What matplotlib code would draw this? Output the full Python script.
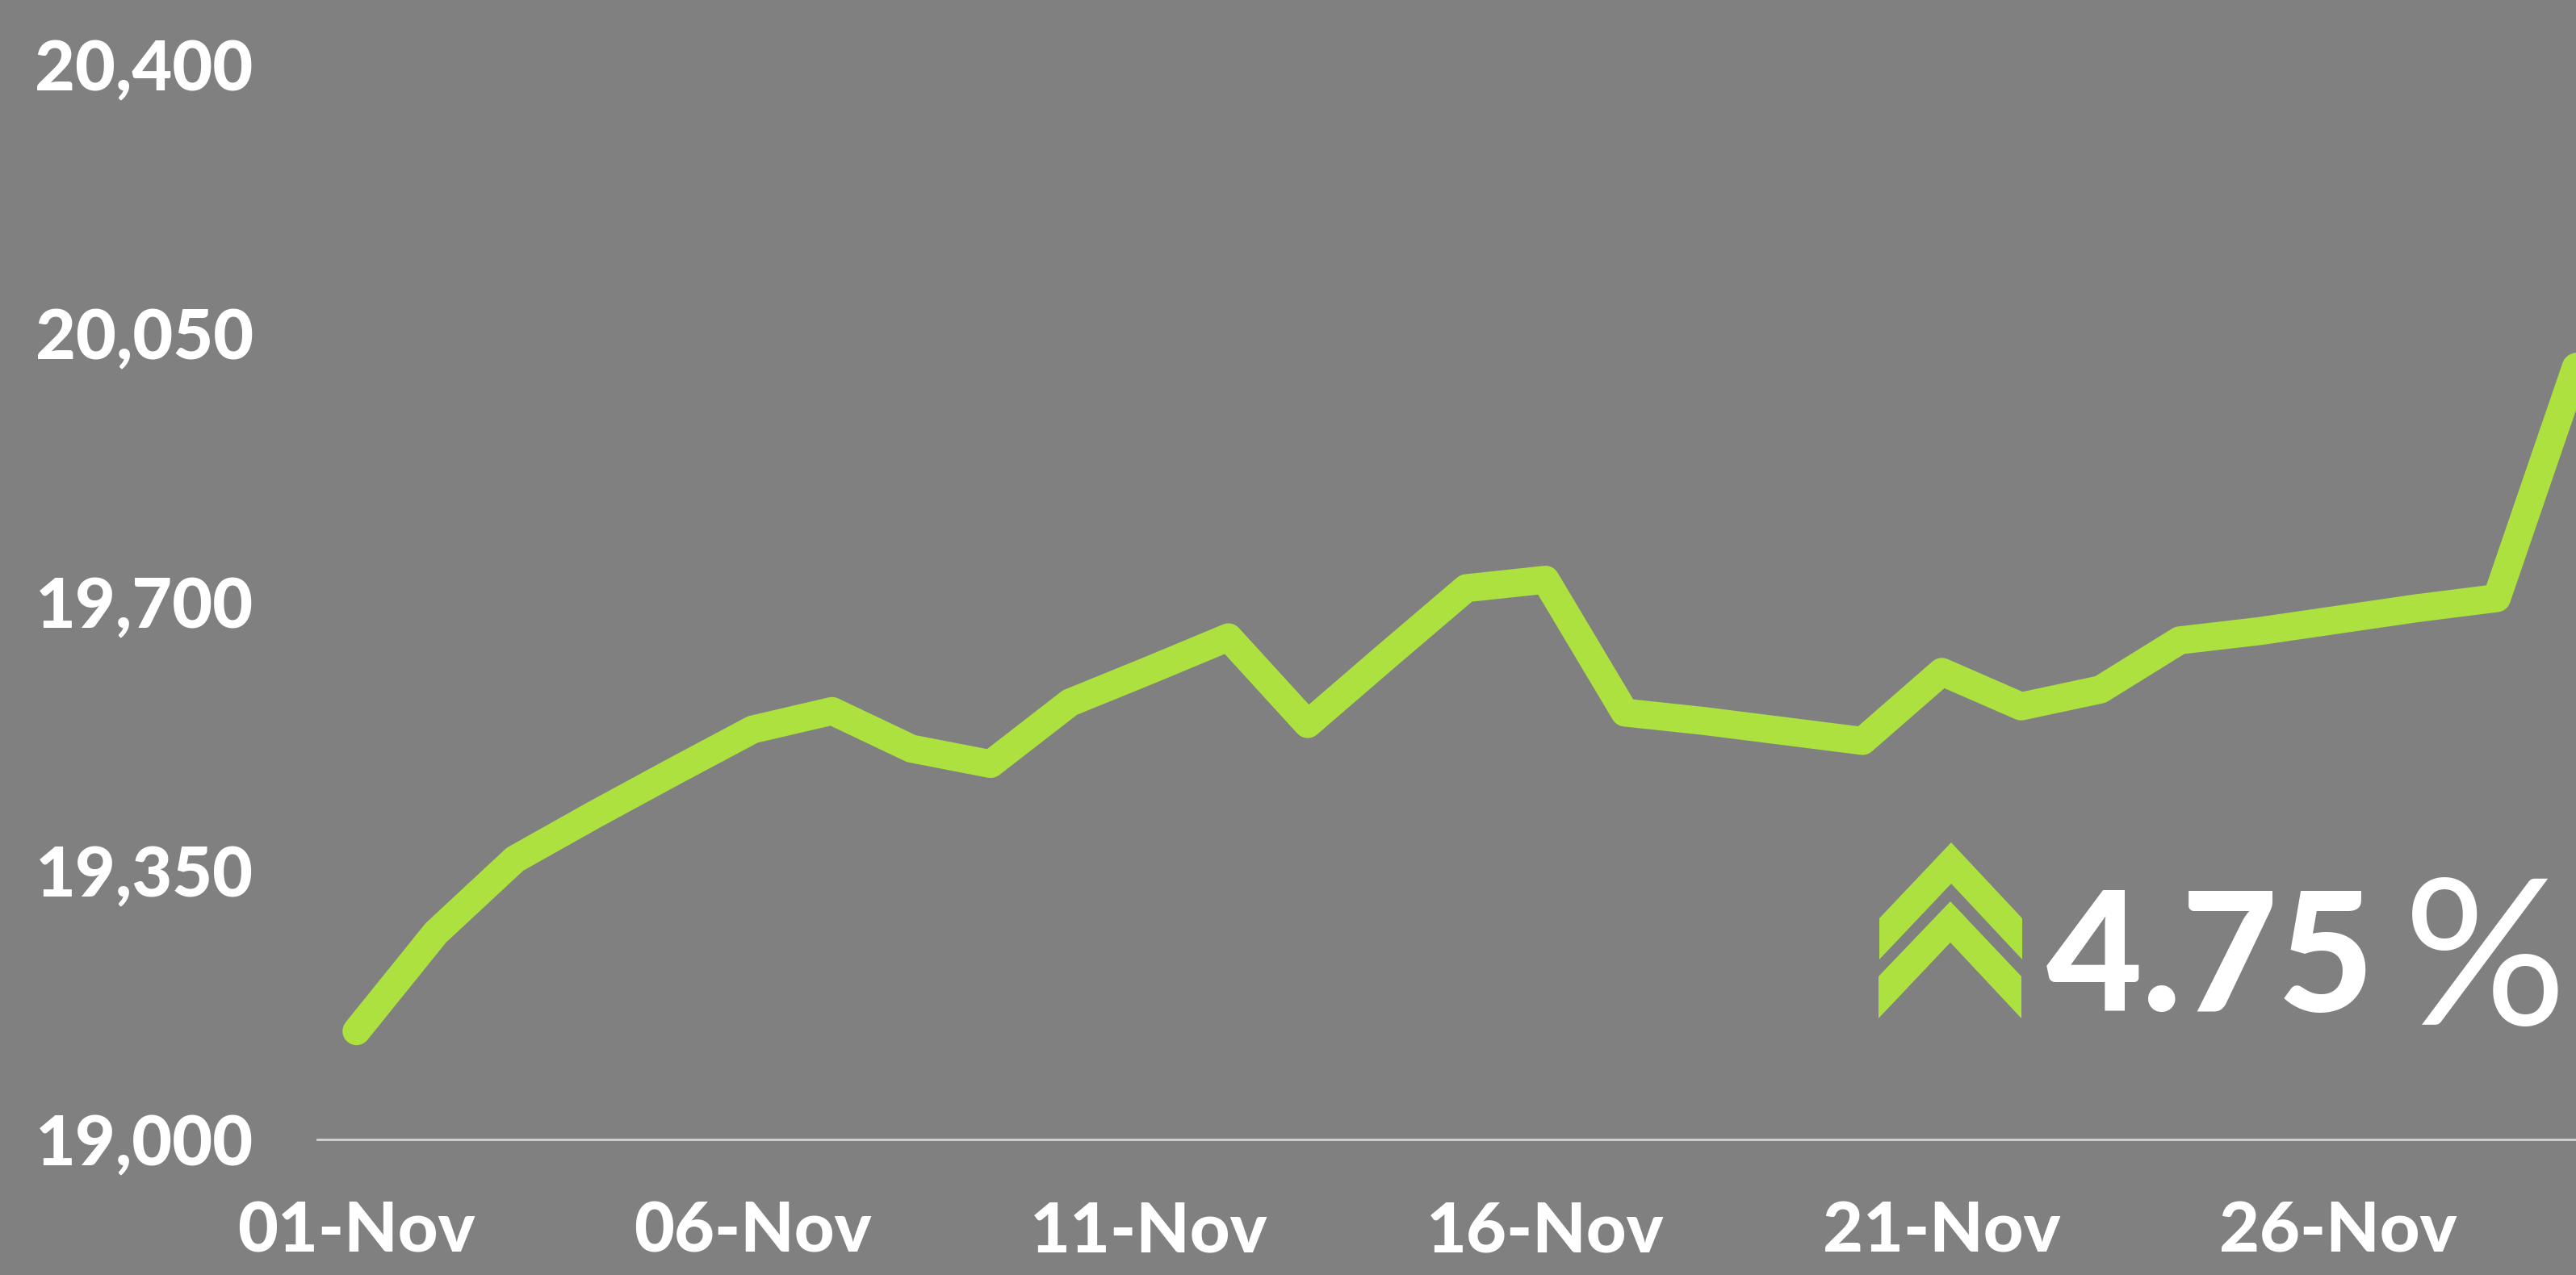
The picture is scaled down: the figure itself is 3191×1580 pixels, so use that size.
import matplotlib
matplotlib.use("Agg")
import matplotlib.pyplot as plt
from matplotlib.patches import Polygon

# dane (30-Nov jest juz poza kadrem)
dni = list(range(1, 31))
kurs = [19141, 19269, 19365, 19423, 19479, 19534, 19558, 19509, 19489, 19569,
        19611, 19654, 19541, 19630, 19718, 19729, 19556, 19545, 19532, 19519,
        19609, 19564, 19586, 19650, 19662, 19677, 19692, 19705, 20006, 20057]
y_ticks = [19000, 19350, 19700, 20050, 20400]
y_labels = ["19,000", "19,350", "19,700", "20,050", "20,400"]
x_ticks = [1, 6, 11, 16, 21, 26]
x_labels = ["01-Nov", "06-Nov", "11-Nov", "16-Nov", "21-Nov", "26-Nov"]

SZARY = "#808080"
ZIELONY = "#ACE13F"
W, H = 3191, 1580

plt.rcParams["font.family"] = ["Lato", "DejaVu Sans"]

fig = plt.figure(figsize=(W / 100, H / 100), dpi=100, facecolor=SZARY)
ax = fig.add_axes([393 / W, (H - 1412) / H, (W - 393) / W, 1332 / H], facecolor=SZARY)

ax.plot(dni, kurs, color=ZIELONY, lw=25, solid_joinstyle="round", solid_capstyle="round")

ax.set_xlim(0.505, 29.0)
ax.set_ylim(19000, 20400)
ax.set_xticks(x_ticks)
ax.set_xticklabels(x_labels, fontsize=62, fontweight="black", color="white")
ax.set_yticks(y_ticks)
ax.set_yticklabels(y_labels, fontsize=62, fontweight="black", color="white", va="center_baseline")
ax.tick_params(axis="x", length=0, pad=54)
ax.tick_params(axis="y", length=0, pad=57)

for s in ["top", "right", "left"]:
    ax.spines[s].set_visible(False)
ax.spines["bottom"].set_color("#d4d4d4")
ax.spines["bottom"].set_linewidth(2)

# strzalki i procent w pikselach figury
def px(x, y):
    return (x / W, (H - y) / H)

gorna = [(2417, 1044), (2505, 1138), (2505, 1189), (2417, 1095), (2328, 1189), (2328, 1138)]
dolna = [(2416, 1117), (2504, 1210), (2504, 1262), (2416, 1168), (2327, 1262), (2327, 1210)]
for ksztalt in [gorna, dolna]:
    fig.add_artist(Polygon([px(*p) for p in ksztalt], closed=True, facecolor=ZIELONY,
                           edgecolor="none", transform=fig.transFigure))

fig.text(2535 / W, (H - 1253) / H, "4.75", fontsize=148, fontweight="black",
         color="white", ha="left", va="baseline")
fig.text(3180 / W, (H - 1270) / H, "%", fontsize=182, fontweight="normal",
         color="white", ha="right", va="baseline")

fig.savefig("out.png", dpi=100, facecolor=SZARY)
